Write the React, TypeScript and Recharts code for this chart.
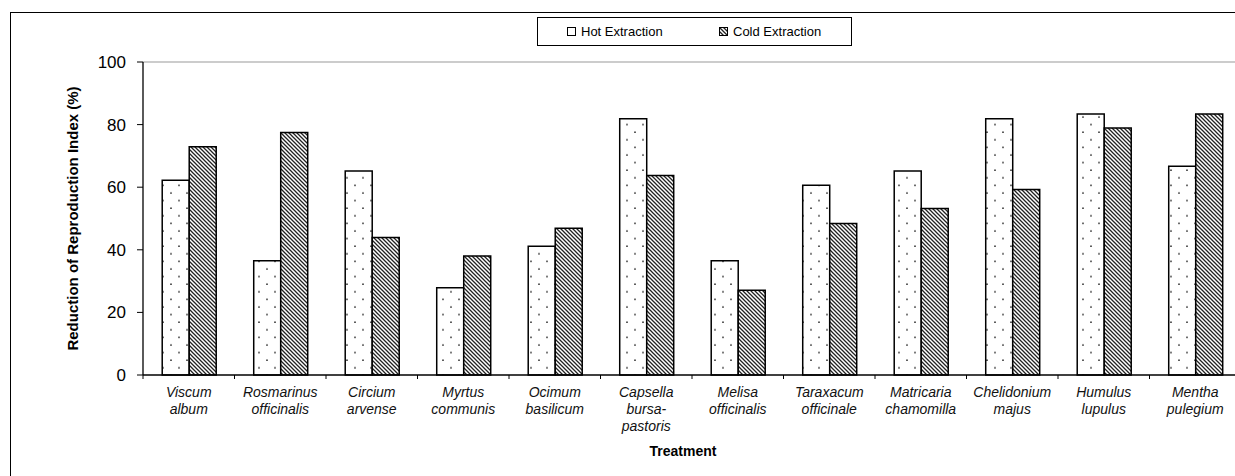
import React from 'react';
import { BarChart, Bar, XAxis, YAxis, Legend, ReferenceLine, Label } from 'recharts';

const categories = [
    'Viscum\nalbum',
    'Rosmarinus\nofficinalis',
    'Circium\narvense',
    'Myrtus\ncommunis',
    'Ocimum\nbasilicum',
    'Capsella\nbursa-\npastoris',
    'Melisa\nofficinalis',
    'Taraxacum\nofficinale',
    'Matricaria\nchamomilla',
    'Chelidonium\nmajus',
    'Humulus\nlupulus',
    'Mentha\npulegium',
];
const hotExtraction = [62.2, 36.5, 65.2, 27.9, 41.1, 81.9, 36.5, 60.6, 65.2, 81.9, 83.4, 66.7];
const coldExtraction = [72.9, 77.5, 43.9, 38.0, 46.9, 63.7, 27.1, 48.4, 53.2, 59.3, 78.9, 83.4];
const seriesNames = ['Hot Extraction', 'Cold Extraction'];
const yTicks = [0, 20, 40, 60, 80, 100];

const data = categories.map((name, i) => ({
    name,
    hot: hotExtraction[i],
    cold: coldExtraction[i],
}));

const FONT = '"Liberation Sans", Arial, sans-serif';
const W = 1300;
const H = 476;
const LEFT = 143;
const TOP = 62;
const BOTTOM = 101;
const PLOT_W = 1098;
const AXIS_Y = H - BOTTOM;
const BAND = PLOT_W / categories.length;

const XTick = (props: any) => {
    const { x, payload } = props;
    const lines = String(payload.value).split('\n');
    return (
        <g>
            <line x1={x - BAND / 2} x2={x - BAND / 2} y1={AXIS_Y} y2={AXIS_Y + 4} stroke="#000" />
            <text x={x} textAnchor="middle" fontStyle="italic" fontSize={14} fontFamily={FONT} fill="#111">
                {lines.map((l, i) => (
                    <tspan key={i} x={x} y={AXIS_Y + 22 + i * 16.8}>{l}</tspan>
                ))}
            </text>
        </g>
    );
};

const swatches = ['#fff', 'url(#hatch)'];

const LegendBox = () => (
    <div style={{ position: 'relative', width: 313, height: 27, border: '1px solid #000', background: '#fff', fontFamily: FONT, fontSize: 13, color: '#000' }}>
        {seriesNames.map((name, i) => (
            <div key={name} style={{ position: 'absolute', left: 29 + i * 152, top: 0, height: 27, display: 'flex', alignItems: 'center', whiteSpace: 'nowrap' }}>
                <svg width={9} height={9} style={{ marginRight: 5 }}>
                    <rect x={0.5} y={0.5} width={8} height={8} fill={swatches[i]} stroke="#000" strokeWidth={1} />
                </svg>
                <span>{name}</span>
            </div>
        ))}
    </div>
);

export default function App() {
    return (
        <div style={{ position: 'absolute', left: 0, top: 0, width: 1235, height: 476, overflow: 'hidden', background: '#fff' }}>
            <div style={{ position: 'absolute', left: 10, top: 12, width: 1400, height: 600, border: '1.5px solid #000' }} />
            <div style={{ position: 'absolute', left: 0, top: 0 }}>
                <BarChart
                    width={W}
                    height={H}
                    data={data}
                    margin={{ top: TOP, right: W - LEFT - PLOT_W, left: 0, bottom: 0 }}
                    barCategoryGap="21%"
                    barGap={0}
                >
                    <defs>
                        <pattern id="dots" patternUnits="userSpaceOnUse" width={16} height={15.2}>
                            <rect width={16} height={15.2} fill="#fff" />
                            <circle cx={3} cy={3} r={0.9} fill="#333" />
                            <circle cx={11} cy={10.6} r={0.9} fill="#333" />
                        </pattern>
                        <pattern id="hatch" patternUnits="userSpaceOnUse" width={4} height={4}>
                            <rect width={4} height={4} fill="#fff" />
                            <path d="M-1,-1 L5,5 M-1,3 L1,5 M3,-1 L5,1" stroke="#222" strokeWidth={1.3} />
                        </pattern>
                    </defs>
                    <ReferenceLine y={100} stroke="#999" strokeWidth={1} />
                    <XAxis
                        dataKey="name"
                        interval={0}
                        height={BOTTOM}
                        tickLine={false}
                        axisLine={{ stroke: '#000', strokeWidth: 1.3 }}
                        tick={<XTick />}
                    >
                        <Label value="Treatment" position="insideTop" offset={71} dx={-9} fontSize={14} fontWeight="bold" fontFamily={FONT} fill="#000" />
                    </XAxis>
                    <YAxis
                        width={LEFT}
                        domain={[0, 100]}
                        ticks={yTicks}
                        tickSize={6}
                        tickMargin={11}
                        tick={{ fontSize: 17, fontFamily: FONT, fill: '#000' }}
                        axisLine={{ stroke: '#000', strokeWidth: 1.3 }}
                        tickLine={{ stroke: '#000' }}
                    >
                        <Label value="Reduction of Reproduction Index (%)" angle={-90} position="center" dx={1} fontSize={15} fontWeight="bold" fontFamily={FONT} fill="#000" />
                    </YAxis>
                    <Legend
                        layout="horizontal"
                        verticalAlign="middle"
                        align="center"
                        wrapperStyle={{ top: 17, left: 537, width: 315 }}
                        content={<LegendBox />}
                    />
                    <Bar dataKey="hot" name={seriesNames[0]} fill="url(#dots)" stroke="#000" strokeWidth={1.5} isAnimationActive={false} />
                    <Bar dataKey="cold" name={seriesNames[1]} fill="url(#hatch)" stroke="#000" strokeWidth={1.5} isAnimationActive={false} />
                </BarChart>
            </div>
        </div>
    );
}
